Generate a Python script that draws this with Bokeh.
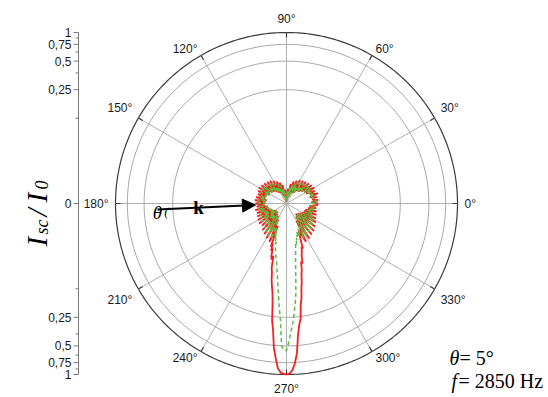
import numpy as np
from bokeh.plotting import figure
from bokeh.models import Range1d, Arrow, NormalHead
from bokeh.core.properties import value
from bokeh.embed import file_html
from bokeh.resources import INLINE

# ---------------- data (I_sc / I_0 versus polar angle in degrees) ----------------
angles_lobes_a = list(range(0, 250, 3))
angles_beam = list(range(250, 291))
angles_lobes_b = list(range(291, 360, 3))

red_lobes_a = [0.0336, 0.0291, 0.0344, 0.0298, 0.0336, 0.0284, 0.0353, 0.0291, 0.0336, 0.0270,
               0.0344, 0.0264, 0.0336, 0.0251, 0.0328, 0.0239, 0.0320, 0.0234, 0.0313, 0.0217,
               0.0305, 0.0212, 0.0291, 0.0202, 0.0277, 0.0188, 0.0257, 0.0179, 0.0228, 0.0170,
               0.0192, 0.0166, 0.0222, 0.0175, 0.0251, 0.0183, 0.0270, 0.0197, 0.0284, 0.0212,
               0.0298, 0.0217, 0.0313, 0.0228, 0.0320, 0.0239, 0.0328, 0.0245, 0.0336, 0.0257,
               0.0344, 0.0251, 0.0336, 0.0264, 0.0328, 0.0270, 0.0336, 0.0257, 0.0344, 0.0264,
               0.0336, 0.0270, 0.0328, 0.0251, 0.0344, 0.0245, 0.0336, 0.0234, 0.0344, 0.0228,
               0.0353, 0.0217, 0.0361, 0.0212, 0.0353, 0.0212, 0.0379, 0.0222, 0.0398, 0.0228,
               0.0418, 0.0245, 0.0439, 0.0284]
red_beam = [0.0483, 0.0439, 0.0532, 0.0495, 0.0601, 0.0647, 0.0587, 0.0785, 0.0865, 0.105,
            0.121, 0.140, 0.179, 0.277, 0.353, 0.532, 0.679, 0.865, 0.953, 0.985,
            1.0, 0.98, 0.908, 0.766, 0.601, 0.388, 0.305, 0.264, 0.188, 0.162,
            0.127, 0.110, 0.0908, 0.0824, 0.0679, 0.0713, 0.0601, 0.0559, 0.0532, 0.0483, 0.0507]
red_lobes_b = [0.0418, 0.0328, 0.0450, 0.0257, 0.0439, 0.0234, 0.0418, 0.0222, 0.0408, 0.0228,
               0.0388, 0.0234, 0.0370, 0.0245, 0.0353, 0.0251, 0.0344, 0.0257, 0.0336, 0.0270,
               0.0328, 0.0277, 0.0336]

green_lobes_a = [0.0320, 0.0291, 0.0328, 0.0298, 0.0313, 0.0284, 0.0328, 0.0291, 0.0313, 0.0270,
                 0.0320, 0.0264, 0.0313, 0.0251, 0.0305, 0.0239, 0.0298, 0.0234, 0.0291, 0.0217,
                 0.0284, 0.0212, 0.0270, 0.0202, 0.0257, 0.0188, 0.0239, 0.0179, 0.0212, 0.0170,
                 0.0183, 0.0166, 0.0207, 0.0175, 0.0234, 0.0183, 0.0251, 0.0197, 0.0264, 0.0212,
                 0.0277, 0.0217, 0.0291, 0.0228, 0.0298, 0.0239, 0.0305, 0.0245, 0.0313, 0.0257,
                 0.0320, 0.0251, 0.0313, 0.0264, 0.0305, 0.0270, 0.0313, 0.0257, 0.0320, 0.0264,
                 0.0313, 0.0270, 0.0305, 0.0251, 0.0320, 0.0245, 0.0313, 0.0234, 0.0320, 0.0228,
                 0.0328, 0.0217, 0.0336, 0.0212, 0.0328, 0.0212, 0.0353, 0.0222, 0.0370, 0.0228,
                 0.0388, 0.0245, 0.0408, 0.0298]
green_beam = [0.0370, 0.0328, 0.0398, 0.0379, 0.0439, 0.0418, 0.0483, 0.0507, 0.0559, 0.0601,
              0.0647, 0.0713, 0.0824, 0.0953, 0.116, 0.147, 0.197, 0.264, 0.495, 0.559,
              0.559, 0.450, 0.353, 0.291, 0.228, 0.179, 0.140, 0.100, 0.0785, 0.0647,
              0.0559, 0.0507, 0.0461, 0.0418, 0.0439, 0.0379, 0.0398, 0.0353, 0.0370, 0.0328, 0.0344]
green_lobes_b = [0.0379, 0.0313, 0.0408, 0.0264, 0.0398, 0.0239, 0.0388, 0.0228, 0.0379, 0.0234,
                 0.0361, 0.0239, 0.0344, 0.0251, 0.0328, 0.0257, 0.0320, 0.0264, 0.0313, 0.0277,
                 0.0313, 0.0284, 0.0320]

grid_levels = [0.25, 0.5, 0.75, 1.0]
major_ticks = [0.0, 0.25, 0.5, 0.75, 1.0]
major_labels = ["0", "0,25", "0,5", "0,75", "1"]
minor_ticks = [0.125, 0.375, 0.625, 0.875]
angle_ticks = list(range(0, 360, 30))
angle_labels = [f"{a}°" for a in angle_ticks]

# ---------------- radial scale (log, 18 dB span) ----------------
DECADES = 1.8


def rad(v):
    v = np.asarray(v, dtype=float)
    safe = np.where(v > 0, v, 1e-12)
    return np.clip(1.0 + np.log10(safe) / DECADES, 0.0, None)


def polar_xy(ang_deg, vals):
    r = rad(vals)
    t = np.radians(np.asarray(ang_deg, dtype=float))
    x = r * np.cos(t)
    y = r * np.sin(t)
    return np.append(x, x[0]), np.append(y, y[0])


# ---------------- layout helpers ----------------
S = 171.0            # pixels per unit radius
CX, CY = 286.0, 203.0
W, H = 546, 395


def X(px):
    return (px - CX) / S


def Y(py):
    return (CY - py) / S


p = figure(width=W, height=H, output_backend="svg", toolbar_location=None,
           x_axis_type=None, y_axis_type=None,
           x_range=Range1d(X(0), X(W)), y_range=Range1d(Y(H), Y(0)),
           min_border=0, min_border_left=0, min_border_right=0,
           min_border_top=0, min_border_bottom=0)
p.grid.visible = False
p.outline_line_color = None
p.background_fill_color = "white"
p.border_fill_color = "white"

# grid circles
tt = np.linspace(0, 2 * np.pi, 361)
for lv in grid_levels:
    rr = float(rad(lv))
    if lv == 1.0:
        p.line(rr * np.cos(tt), rr * np.sin(tt), line_color="#3a3a3a", line_width=1.2)
    else:
        p.line(rr * np.cos(tt), rr * np.sin(tt), line_color="#a6a6a6", line_width=1)

# spokes and outer ticks
for a in angle_ticks:
    t = np.radians(a)
    p.line([0, np.cos(t)], [0, np.sin(t)], line_color="#b0b0b0", line_width=1)
    p.line([np.cos(t), (1 - 5 / S) * np.cos(t)], [np.sin(t), (1 - 5 / S) * np.sin(t)],
           line_color="#3a3a3a", line_width=1.2)

# angle labels
for a, lab in zip(angle_ticks, angle_labels):
    t = np.radians(a)
    c, s = np.cos(t), np.sin(t)
    if abs(c) < 1e-6:
        align = "center"
    else:
        align = "left" if c > 0 else "right"
    if abs(s) < 1e-6 or abs(abs(s) - 0.866) < 0.01:
        base = "middle"
    else:
        base = "bottom" if s > 0 else "top"
    p.text([178 * c / S], [178 * s / S], text=[lab], text_font=value("Liberation Sans"),
           text_font_size="12px", text_color="#1a1a1a", text_align=align, text_baseline=base)

# curves
ang_all = angles_lobes_a + angles_beam + angles_lobes_b
rx, ry = polar_xy(ang_all, red_lobes_a + red_beam + red_lobes_b)
gx, gy = polar_xy(ang_all, green_lobes_a + green_beam + green_lobes_b)
p.line(rx, ry, line_color="#f22020", line_width=1.8)
p.line(gx, gy, line_color="#5cbf3c", line_width=1.5, line_dash="4 3")

# left radial axis
AX = X(78)
p.line([AX, AX], [-1, 1], line_color="#7a7a7a", line_width=1)
tick_y, tick_lab = [], []
for v, lab in zip(major_ticks, major_labels):
    for sgn in ([1] if v == 0 else [1, -1]):
        yy = sgn * float(rad(v))
        p.line([AX, AX - 5 / S], [yy, yy], line_color="#7a7a7a", line_width=1)
        tick_y.append(yy)
        tick_lab.append(lab)
for v in minor_ticks:
    for sgn in [1, -1]:
        yy = sgn * float(rad(v))
        p.line([AX, AX - 3 / S], [yy, yy], line_color="#7a7a7a", line_width=1)
p.text([AX - 7 / S] * len(tick_y), tick_y, text=tick_lab, text_font=value("Liberation Sans"),
       text_font_size="12px", text_color="#1a1a1a", text_align="right", text_baseline="middle")

# axis title I_sc / I_0 (rotated)
serif = value("Liberation Serif")
title_parts = [("I", 29, 36, 246), ("sc", 18, 41, 234), ("/", 29, 36, 216), ("I", 29, 36, 202), ("0", 18, 41, 189)]
for txt, fs, bx, sy0 in title_parts:
    p.text([X(bx)], [Y(sy0)], text=[txt], angle=np.pi / 2, text_font=serif, text_font_style="italic",
           text_font_size=f"{fs}px", text_color="black", text_align="left", text_baseline="alphabetic")

# wave vector arrow
p.add_layout(Arrow(end=NormalHead(size=13, fill_color="black", line_color="black", line_width=1),
                   x_start=X(157), y_start=Y(209), x_end=X(255), y_end=Y(204.5),
                   line_color="black", line_width=2))
p.text([X(198)], [Y(207)], text=["k"], text_font=serif, text_font_style="bold", text_font_size="19px",
       text_color="black", text_align="center", text_baseline="alphabetic")
p.text([X(157)], [Y(212)], text=["θ"], text_font=serif, text_font_style="italic", text_font_size="19px",
       text_color="black", text_align="center", text_baseline="alphabetic")
p.text([X(166)], [Y(211)], text=["("], text_font=serif, text_font_style="italic", text_font_size="13px",
       text_color="black", text_align="center", text_baseline="alphabetic")

# parameters text
p.text([X(449)], [Y(357)], text=["θ"], text_font=serif, text_font_style="italic", text_font_size="20px",
       text_color="black", text_align="left", text_baseline="alphabetic")
p.text([X(459)], [Y(357)], text=["= 5°"], text_font=serif, text_font_size="20px",
       text_color="black", text_align="left", text_baseline="alphabetic")
p.text([X(451)], [Y(380)], text=["f"], text_font=serif, text_font_style="italic", text_font_size="20px",
       text_color="black", text_align="left", text_baseline="alphabetic")
p.text([X(458)], [Y(380)], text=["= 2850 Hz"], text_font=serif, text_font_size="20px",
       text_color="black", text_align="left", text_baseline="alphabetic")

open("out.html", "w").write(file_html(p, INLINE))
